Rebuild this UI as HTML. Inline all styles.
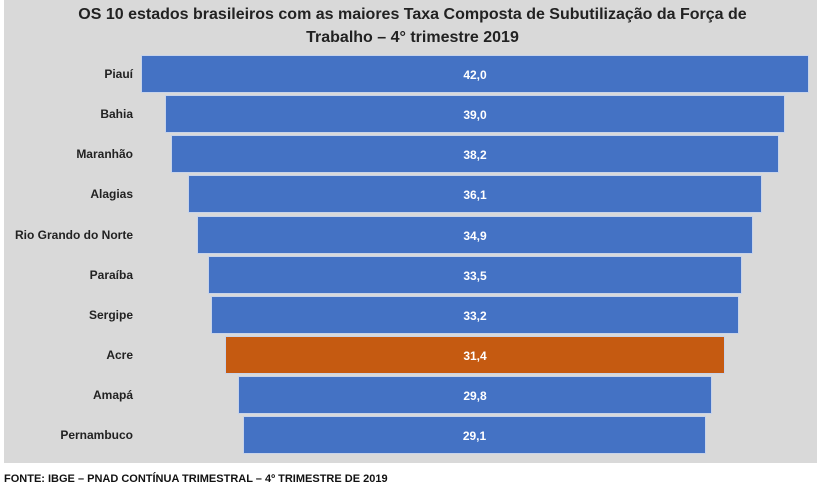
<!DOCTYPE html>
<html><head><meta charset="utf-8"><style>
body{margin:0;width:825px;height:498px;background:#fff;font-family:"Liberation Sans",sans-serif;position:relative;overflow:hidden}
#bg{position:absolute;left:4px;top:0;width:813px;height:463px;background:#d9d9d9}
.t{position:absolute;left:0;width:825px;text-align:center;font-weight:bold;font-size:16px;color:#222}
.l{position:absolute;right:692px;font-size:12px;font-weight:bold;color:#222;text-align:right;white-space:nowrap}
.b{position:absolute;height:38px;background:#4472c4;color:#fff;font-size:12px;font-weight:bold;text-align:center;line-height:38px;border:1px solid #c7d3ea;box-sizing:border-box}
#f{position:absolute;left:4px;top:473px;font-size:11px;font-weight:bold;color:#111}
</style></head><body>
<div id="bg"></div>
<div class="t" style="top:6px">OS 10 estados brasileiros com as maiores Taxa Composta de Subutilização da Força de</div>
<div class="t" style="top:29px">Trabalho – 4° trimestre 2019</div>
<div class="l" style="top:67px">Piauí</div><div class="b" style="left:141px;width:668px;top:55px">42,0</div>
<div class="l" style="top:107px">Bahia</div><div class="b" style="left:165px;width:620px;top:95px">39,0</div>
<div class="l" style="top:147px">Maranhão</div><div class="b" style="left:171px;width:608px;top:135px">38,2</div>
<div class="l" style="top:187px">Alagias</div><div class="b" style="left:188px;width:574px;top:175px">36,1</div>
<div class="l" style="top:228px">Rio Grando do Norte</div><div class="b" style="left:197px;width:556px;top:216px">34,9</div>
<div class="l" style="top:268px">Paraíba</div><div class="b" style="left:208px;width:534px;top:256px">33,5</div>
<div class="l" style="top:308px">Sergipe</div><div class="b" style="left:211px;width:528px;top:296px">33,2</div>
<div class="l" style="top:348px">Acre</div><div class="b" style="left:225px;width:500px;top:336px;background:#c55a11">31,4</div>
<div class="l" style="top:388px">Amapá</div><div class="b" style="left:238px;width:474px;top:376px">29,8</div>
<div class="l" style="top:428px">Pernambuco</div><div class="b" style="left:243px;width:463px;top:416px">29,1</div>
<div id="f">FONTE: IBGE – PNAD CONTÍNUA TRIMESTRAL – 4º TRIMESTRE DE 2019</div>
</body></html>
